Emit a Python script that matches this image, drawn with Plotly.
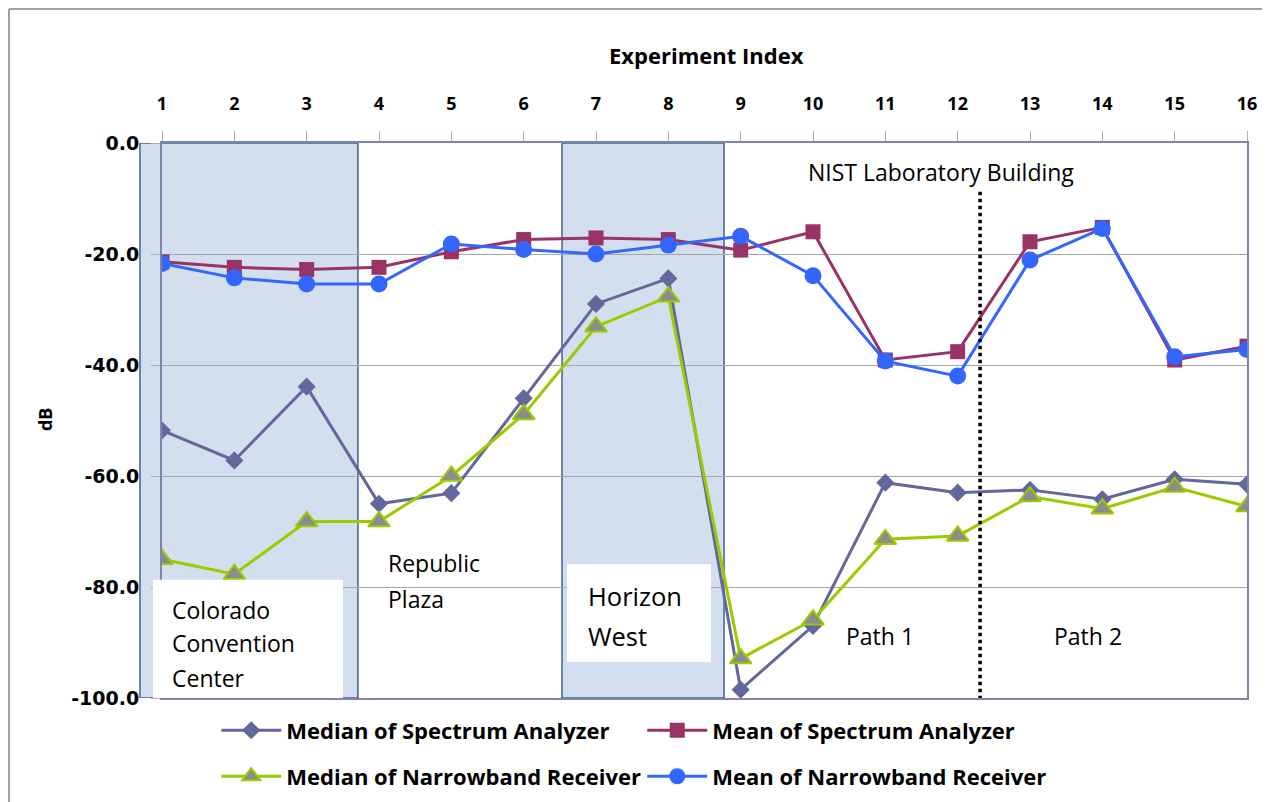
import plotly.graph_objects as go

# ---------------- data ----------------
experiments = list(range(1, 17))
median_spectrum = [-51.8, -57.2, -43.9, -65.0, -63.1, -46.0, -29.0, -24.4,
                   -98.5, -87.0, -61.2, -63.0, -62.5, -64.2, -60.6, -61.5]
mean_spectrum = [-21.4, -22.4, -22.8, -22.4, -19.6, -17.4, -17.1, -17.4,
                 -19.3, -16.0, -39.1, -37.6, -17.8, -15.2, -39.1, -36.6]
median_narrow = [-75.0, -77.7, -68.2, -68.2, -60.0, -48.9, -33.1, -27.7,
                 -92.9, -85.9, -71.4, -70.8, -63.7, -65.9, -62.0, -65.5]
mean_narrow = [-21.7, -24.3, -25.4, -25.4, -18.2, -19.2, -20.0, -18.4,
               -16.8, -23.9, -39.3, -42.0, -21.1, -15.4, -38.5, -37.2]
y_ticks = [0, -20, -40, -60, -80, -100]

FONT_C = "Open Sans"
FONT_V = "DejaVu Sans"
AX = "#8084a8"

fig = go.Figure()
fig.add_trace(go.Scatter(
    x=experiments, y=median_spectrum, name="Median of Spectrum Analyzer",
    mode="lines+markers", line=dict(color="#62679e", width=3),
    marker=dict(symbol="diamond", size=14, color="#62679e"), legend="legend"))
fig.add_trace(go.Scatter(
    x=experiments, y=mean_spectrum, name="Mean of Spectrum Analyzer",
    mode="lines+markers", line=dict(color="#993366", width=3),
    marker=dict(symbol="square", size=15, color="#993366"), legend="legend"))
fig.add_trace(go.Scatter(
    x=experiments, y=median_narrow, name="Median of Narrowband Receiver",
    mode="lines+markers", line=dict(color="#99cc00", width=3),
    marker=dict(symbol="triangle-up", size=19, color="#8c8c8c",
                line=dict(color="#99cc00", width=2)), legend="legend2"))
fig.add_trace(go.Scatter(
    x=experiments, y=mean_narrow, name="Mean of Narrowband Receiver",
    mode="lines+markers", line=dict(color="#3366ff", width=3),
    marker=dict(symbol="circle", size=17, color="#3366ff"), legend="legend2"))

shapes = [
    # shaded regions
    dict(type="rect", xref="paper", yref="y", x0=-0.0203, x1=0.1806, y0=-100, y1=0,
         fillcolor="#d3dfef", line=dict(color="#3e6495", width=1.5), layer="below"),
    dict(type="rect", xref="x", yref="y", x0=6.53, x1=8.77, y0=-100, y1=0,
         fillcolor="#d3dfef", line=dict(color="#3e6495", width=1.5), layer="below"),
    # white label boxes
    dict(type="rect", xref="paper", yref="y", x0=-0.0083, x1=0.1668, y0=-100, y1=-78.7,
         fillcolor="white", line=dict(width=0), layer="above"),
    dict(type="rect", xref="x", yref="y", x0=6.60, x1=8.59, y0=-93.5, y1=-75.9,
         fillcolor="white", line=dict(width=0), layer="above"),
    # dotted separator
    dict(type="line", xref="x", yref="y", x0=12.31, x1=12.31, y0=-8.8, y1=-100,
         line=dict(color="black", width=3.5, dash="dot"), layer="above"),
    # outer frame
    dict(type="line", xref="paper", yref="paper", x0=-0.141, x1=-0.141, y0=1.2414, y1=-0.2,
         line=dict(color="#a0a0a0", width=2)),
    dict(type="line", xref="paper", yref="paper", x0=-0.141, x1=1.03, y0=1.2414, y1=1.2414,
         line=dict(color="#a0a0a0", width=2)),
]

ann = []
def txt(t, x, y, size, xanchor="left", bold=False, xref="x", yref="y", angle=0, font=FONT_C):
    ann.append(dict(text=t, x=x, y=y, xref=xref, yref=yref,
                    xanchor=xanchor, yanchor="middle", showarrow=False, textangle=angle,
                    font=dict(family=font, size=size, color="black",
                              weight="bold" if bold else "normal")))

txt("NIST Laboratory Building", 11.77, -5.2, 23, xanchor="center")
txt("Republic", 4.10, -75.7, 23)
txt("Plaza", 4.10, -82.2, 23)
txt("Colorado", 1.11, -84.1, 23)
txt("Convention", 1.11, -90.1, 23)
txt("Center", 1.11, -96.4, 23)
txt("Horizon", 6.86, -81.6, 25.5)
txt("West", 6.86, -88.8, 25.5)
txt("Path 1", 10.43, -88.8, 23)
txt("Path 2", 13.30, -88.8, 23)
txt("Experiment Index", 0.5023, 1.1586, 22, xanchor="center", bold=True, xref="paper", yref="paper")
txt("dB", -0.1078, 0.5009, 18, xanchor="center", bold=True, xref="paper", yref="paper", angle=-90)

legend_common = dict(orientation="h", xanchor="left", yanchor="middle",
                     itemwidth=60, entrywidth=351, entrywidthmode="pixels",
                     font=dict(family=FONT_C, size=22, color="black", weight="bold"),
                     bgcolor="rgba(0,0,0,0)")

fig.update_layout(
    width=1262, height=794,
    margin=dict(l=154, r=23, t=135, b=104, autoexpand=False),
    paper_bgcolor="white", plot_bgcolor="rgba(0,0,0,0)",
    shapes=shapes, annotations=ann,
    legend=dict(x=0.05, y=-0.0585, **legend_common),
    legend2=dict(x=0.05, y=-0.1413, **legend_common),
    xaxis=dict(side="top", range=[1, 16], tickvals=experiments,
               ticktext=[str(e) for e in experiments],
               tickfont=dict(family=FONT_C, size=18, color="black", weight="bold"),
               ticks="outside", ticklen=10, tickcolor="#b0b0b0", tickwidth=1,
               ticklabelstandoff=14,
               showline=True, linecolor=AX, linewidth=2, mirror=True,
               showgrid=False, zeroline=False),
    yaxis=dict(range=[-100, 0], tickvals=y_ticks,
               ticktext=["%.1f" % v for v in y_ticks],
               tickfont=dict(family=FONT_V, size=19, color="black", weight="bold"),
               ticks="outside", ticklen=9, tickcolor="#b0b0b0", tickwidth=1,
               ticklabelstandoff=8,
               showline=True, linecolor=AX, linewidth=2, mirror=True,
               showgrid=True, gridcolor="#a6a6a6", gridwidth=1, zeroline=False),
)

fig.write_html("out.html")
